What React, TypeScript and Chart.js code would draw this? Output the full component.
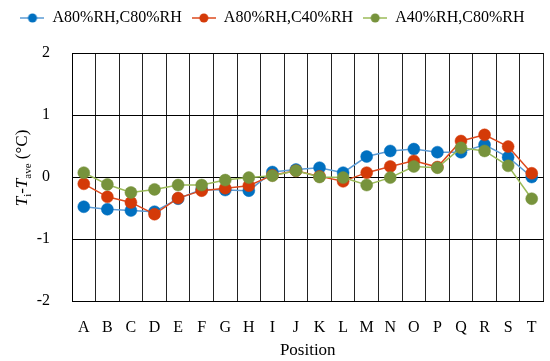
import React, { useEffect, useRef } from 'react';
import { Chart, registerables } from 'chart.js';

Chart.register(...registerables);

const categories = ['A', 'B', 'C', 'D', 'E', 'F', 'G', 'H', 'I', 'J', 'K', 'L', 'M', 'N', 'O', 'P', 'Q', 'R', 'S', 'T'];
const seriesNames = ['A80%RH,C80%RH', 'A80%RH,C40%RH', 'A40%RH,C80%RH'];
const blueValues = [-0.48, -0.52, -0.54, -0.56, -0.35, -0.2, -0.21, -0.22, 0.08, 0.12, 0.15, 0.07, 0.33, 0.42, 0.45, 0.4, 0.4, 0.52, 0.32, 0.0];
const redValues = [-0.11, -0.32, -0.41, -0.6, -0.34, -0.22, -0.18, -0.14, 0.03, 0.1, 0.01, -0.07, 0.07, 0.17, 0.26, 0.16, 0.58, 0.68, 0.49, 0.06];
const greenValues = [0.07, -0.12, -0.25, -0.2, -0.13, -0.13, -0.05, -0.01, 0.02, 0.1, 0.0, -0.01, -0.13, -0.01, 0.17, 0.15, 0.47, 0.42, 0.18, -0.35];
const yMin = -2;
const yMax = 2;
const yStep = 1;
const xTitle = 'Position';

const FONT = "'Liberation Serif', 'Times New Roman', serif";

const BLUE_DOT = '#0070C0';
const BLUE_LINE = '#5B9BD5';
const RED_DOT = '#D43A08';
const RED_LINE = '#DD4A1E';
const GREEN_DOT = '#77933C';
const GREEN_LINE = '#9BBB59';

function legendIcon(lineColor: string, dotColor: string) {
  const c = document.createElement('canvas');
  c.width = 24;
  c.height = 12;
  const g = c.getContext('2d')!;
  g.strokeStyle = lineColor;
  g.lineWidth = 1.5;
  g.beginPath();
  g.moveTo(0, 6);
  g.lineTo(24, 6);
  g.stroke();
  g.fillStyle = dotColor;
  g.beginPath();
  g.arc(12, 6, 4.5, 0, Math.PI * 2);
  g.fill();
  return c;
}

const yTitlePlugin = {
  id: 'yTitle',
  afterDraw(chart: any) {
    const ctx = chart.ctx as CanvasRenderingContext2D;
    const segs = [
      { t: 'T', font: `italic 17px ${FONT}`, dy: 0 },
      { t: 'i', font: `11px ${FONT}`, dy: 4 },
      { t: '-', font: `17px ${FONT}`, dy: 0 },
      { t: 'T', font: `italic 17px ${FONT}`, dy: 0 },
      { t: 'ave', font: `11px ${FONT}`, dy: 4 },
      { t: ' (°C)', font: `17px ${FONT}`, dy: 0 },
    ];
    ctx.save();
    let total = 0;
    const widths = segs.map((s) => {
      ctx.font = s.font;
      const w = ctx.measureText(s.t).width;
      total += w;
      return w;
    });
    ctx.translate(21, 168);
    ctx.rotate(-Math.PI / 2);
    ctx.fillStyle = '#000';
    ctx.textBaseline = 'alphabetic';
    ctx.textAlign = 'left';
    let x = -total / 2;
    segs.forEach((s, i) => {
      ctx.font = s.font;
      ctx.fillText(s.t, x, 6 + s.dy);
      x += widths[i];
    });
    ctx.restore();
  },
};

export default function App() {
  const ref = useRef<HTMLCanvasElement | null>(null);

  useEffect(() => {
    document.body.style.margin = '0';
    const canvas = ref.current!;
    const icons = [
      legendIcon(BLUE_LINE, BLUE_DOT),
      legendIcon(RED_LINE, RED_DOT),
      legendIcon(GREEN_LINE, GREEN_DOT),
    ];
    const mk = (label: string, data: number[], line: string, dot: string, order: number) => ({
      label,
      data,
      borderColor: line,
      backgroundColor: dot,
      pointBackgroundColor: dot,
      pointBorderColor: dot,
      pointBorderWidth: 0.5,
      pointRadius: 6,
      borderWidth: 1.5,
      tension: 0,
      order,
    });
    const chart = new Chart(canvas, {
      type: 'line',
      data: {
        labels: categories,
        datasets: [
          mk(seriesNames[0], blueValues, BLUE_LINE, BLUE_DOT, 3),
          mk(seriesNames[1], redValues, RED_LINE, RED_DOT, 2),
          mk(seriesNames[2], greenValues, GREEN_LINE, GREEN_DOT, 1),
        ],
      },
      options: {
        responsive: false,
        animation: false,
        layout: { padding: { left: 0, right: 5, top: 0, bottom: 0 } },
        plugins: {
          tooltip: { enabled: false },
          legend: {
            display: true,
            position: 'top',
            labels: {
              usePointStyle: true,
              pointStyleWidth: 24,
              padding: 10,
              color: '#000',
              font: { family: FONT, size: 16 },
              generateLabels: (ch: any) =>
                ch.data.datasets.map((ds: any, i: number) => ({
                  text: ds.label,
                  pointStyle: icons[i],
                  fillStyle: ds.backgroundColor,
                  strokeStyle: ds.borderColor,
                  lineWidth: 0,
                  hidden: false,
                  datasetIndex: i,
                  fontColor: '#000',
                })),
            },
          },
        },
        scales: {
          x: {
            type: 'category',
            position: 'bottom',
            offset: true,
            grid: { display: true, offset: true, color: '#222', lineWidth: 1, drawTicks: false },
            border: { display: true, color: '#000', width: 1 },
            ticks: { color: '#000', font: { family: FONT, size: 16 }, padding: 17, maxRotation: 0, autoSkip: false },
            title: { display: true, text: xTitle, color: '#000', font: { family: FONT, size: 17 }, padding: { top: 0, bottom: 0 } },
            afterFit: (s: any) => {
              s.height = 60;
              s.paddingLeft = 0;
              s.paddingRight = 0;
            },
          },
          xTop: {
            type: 'category',
            position: 'top',
            labels: categories,
            grid: { display: false },
            border: { display: false },
            ticks: { display: false },
            afterFit: (s: any) => {
              s.height = 17;
              s.paddingLeft = 0;
              s.paddingRight = 0;
            },
          },
          y: {
            type: 'linear',
            min: yMin,
            max: yMax,
            ticks: { stepSize: yStep, color: '#000', font: { family: FONT, size: 16 }, padding: 22 },
            grid: { display: true, color: '#000', lineWidth: 1, drawTicks: false },
            border: { display: true, color: '#000', width: 1 },
            afterFit: (s: any) => {
              s.width = 72;
            },
          },
        },
      } as any,
      plugins: [yTitlePlugin],
    });
    return () => chart.destroy();
  }, []);

  return (
    <div style={{ width: 550, height: 361 }}>
      <canvas ref={ref} width={550} height={361} style={{ display: 'block' }} />
    </div>
  );
}
